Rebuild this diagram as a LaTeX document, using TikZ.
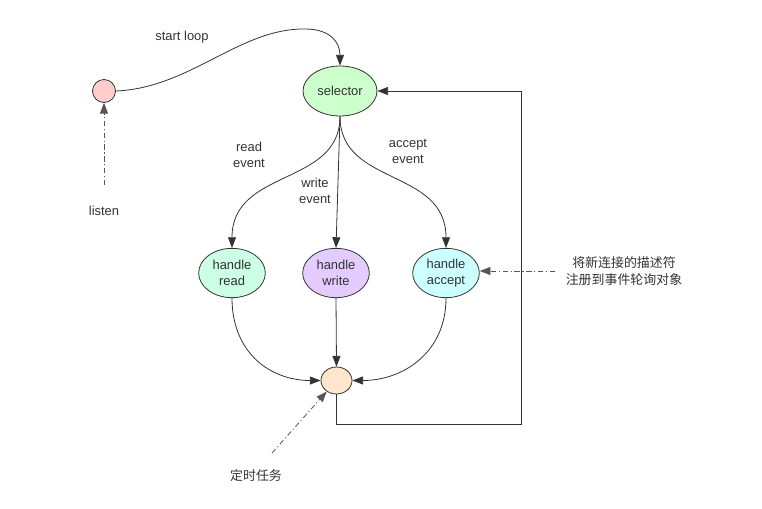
\documentclass[tikz,border=0pt]{standalone}
\usepackage{fontspec}
\setmainfont{Liberation Sans}
\newfontfamily\cjk{Noto Sans CJK SC}
\usetikzlibrary{shapes.geometric,arrows.meta}

\definecolor{linegray}{HTML}{333333}
\definecolor{textgray}{HTML}{333333}
\definecolor{hintgray}{HTML}{555555}
\definecolor{pinkfill}{HTML}{FFCCCC}
\definecolor{greenfill}{HTML}{CCFFCC}
\definecolor{mintfill}{HTML}{CCFFE6}
\definecolor{violetfill}{HTML}{E5CCFF}
\definecolor{cyanfill}{HTML}{CCFFFF}
\definecolor{peachfill}{HTML}{FFE6CC}

\tikzset{
	state/.style={shape=ellipse, draw=linegray, line width=0.6pt, inner sep=0pt, align=center, text=textgray, font=\fontsize{9.7}{12}\selectfont},
	flow/.style={-{Triangle[length=8pt,width=6pt]}, draw=linegray, line width=0.6pt},
	hint/.style={flow, draw=hintgray, dash pattern=on 4pt off 2pt on 0.8pt off 2pt},
	lbl/.style={text=textgray, align=center, inner sep=0pt, font=\fontsize{9.7}{12}\selectfont}
}

\begin{document}
\begin{tikzpicture}[x=0.75pt,y=-0.75pt]
	\useasboundingbox (0,0) rectangle (762,508);

	\node[state,fill=pinkfill,minimum width=17.25pt,minimum height=17.25pt] (boot) at (104, 91) {};
	\node[state,fill=greenfill,minimum width=55.5pt,minimum height=37.5pt] (selector) at (340, 91) {selector};
	\node[state,fill=mintfill,minimum width=50pt,minimum height=37pt] (read) at (232, 273) {handle\\read};
	\node[state,fill=violetfill,minimum width=50pt,minimum height=37pt] (write) at (336, 273) {handle\\write};
	\node[state,fill=cyanfill,minimum width=50pt,minimum height=37pt] (accept) at (446, 273) {handle\\accept};
	\node[state,fill=peachfill,minimum width=23.25pt,minimum height=20.25pt] (timer) at (336.5, 380.5) {};

	\node[lbl] (startlbl) at (182, 37) {start loop};
	\node[lbl] (listenlbl) at (104, 211) {listen};
	\node[lbl] (readlbl) at (249, 155) {read\\event};
	\node[lbl] (writelbl) at (315, 191) {write\\event};
	\node[lbl] (acceptlbl) at (408, 151) {accept\\event};
	\node[lbl,font=\cjk\fontsize{9.7}{12.8}\selectfont] (registerlbl) at (624, 271) {将新连接的描述符\\注册到事件轮询对象};
	\node[lbl,font=\cjk\fontsize{9.7}{12}\selectfont] (timerlbl) at (256, 476) {定时任务};

	\coordinate (listenend) at (104, 185);
	\coordinate (registerend) at (555, 271);
	\coordinate (timerend) at (272, 453);
	\coordinate (corner) at (521, 424);

	\draw[flow] (boot.east) .. controls (190, 88) and (240, 28) .. (305, 29) .. controls (330, 29) and (340, 42) .. (selector.north);

	\draw[flow] (selector.south) .. controls +(0, 70) and +(0, -80) .. (read.north);
	\draw[flow] (selector.south) -- (write.north);
	\draw[flow] (selector.south) .. controls +(0, 70) and +(0, -80) .. (accept.north);

	\draw[flow] (read.south) .. controls +(0, 55) and +(-50, 0) .. (timer.west);
	\draw[flow] (write.south) -- (timer.north);
	\draw[flow] (accept.south) .. controls +(0, 55) and +(50, 0) .. (timer.east);

	\draw[flow] (timer.south) |- (corner) |- (selector.east);

	\draw[hint] (listenend) -- (boot.south);
	\draw[hint] (registerend) -- (registerend -| accept.east);
	\draw[hint] (timerend) -- (timer);

\end{tikzpicture}
\end{document}
